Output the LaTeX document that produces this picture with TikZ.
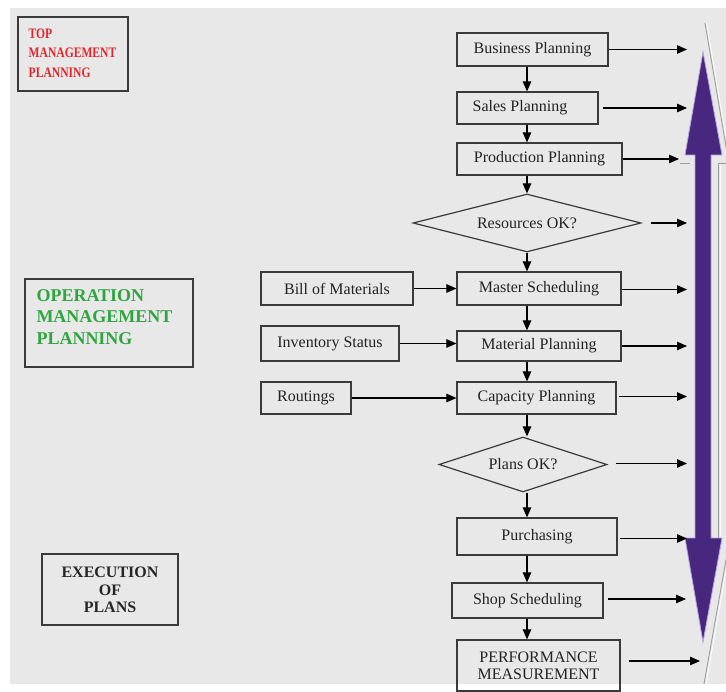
\documentclass[tikz,border=0pt]{standalone}
\usepackage{fontspec}
\setmainfont{Liberation Serif}
\newfontfamily\narrowserif[FakeStretch=0.8]{Liberation Serif}
\usetikzlibrary{arrows.meta,shapes.geometric}

\definecolor{pagebg}{HTML}{E8E8E8}
\definecolor{boxline}{HTML}{3A3A3A}
\definecolor{ink}{HTML}{222222}
\definecolor{topred}{HTML}{E3262E}
\definecolor{opgreen}{HTML}{2FA53F}
\definecolor{flowpurple}{HTML}{48287F}
\definecolor{flowedge}{HTML}{B7A4DD}
\definecolor{shadowline}{HTML}{9C9C9C}

\begin{document}
\begin{tikzpicture}[x=1pt,y=-1pt,
  stepbox/.style={draw=boxline, line width=1.2pt, inner sep=0pt, text=ink,
    font=\fontsize{16}{18}\selectfont, align=center},
  decision/.style={diamond, draw=boxline, line width=1.2pt, inner sep=0pt,
    aspect=3.5, text=ink, font=\fontsize{16}{18}\selectfont},
  levelbox/.style={draw=boxline, line width=1.3pt, inner sep=0pt},
  flow/.style={draw=black, line width=1.1pt, -{Triangle[length=10pt,width=8.5pt]}},
  rim/.style={shadowline, line width=0.9pt},
  rimlight/.style={white, line width=0.8pt},
]
\useasboundingbox (0,0) rectangle (726,692);
\fill[white] (0,0) rectangle (726,692);
\fill[pagebg] (10,8) rectangle (726,684);

% --- raised rim on the right-hand side of the two-way arrow
\draw[rimlight] (706.5,23) -- (730,161);
\draw[rimlight] (720,165) -- (720,538);
\draw[rimlight] (730,548) -- (706,684);
\draw[rim] (705,23) -- (728.5,161);
\draw[rim] (680,163) -- (690,163);
\draw[rim] (718,163) -- (726,163);
\draw[rim] (718,163) -- (718,538);
\draw[rim] (728.5,546) -- (704,684);
% --- purple two-way arrow (planning up, execution down)
\fill[flowpurple, draw=flowedge, line width=0.8pt]
  (703,52) -- (722,155) -- (711,155) -- (711,538) -- (722,538) -- (703,642)
  -- (685,538) -- (695,538) -- (695,155) -- (685,155) -- cycle;

% --- level boxes on the left
\node[levelbox, minimum width=110pt, minimum height=74pt] (topbox) at (73,54) {};
\node[align=left, text=topred, font=\narrowserif\bfseries\fontsize{14.5}{19.5}\selectfont]
  (toptext) at (72.5,53) {TOP\\MANAGEMENT\\PLANNING};

\node[levelbox, minimum width=168pt, minimum height=88pt] (opbox) at (109,323) {};
\node[align=left, text=opgreen, font=\bfseries\fontsize{18}{21.5}\selectfont]
  (optext) at (104.5,317) {OPERATION\\MANAGEMENT\\PLANNING};

\node[levelbox, minimum width=136pt, minimum height=71pt] (exbox) at (110,589.5) {};
\node[align=center, text=black!85, font=\bfseries\fontsize{16}{17.5}\selectfont]
  (extext) at (110,590) {EXECUTION\\OF\\PLANS};

% --- main chain
\node[stepbox, minimum width=151pt, minimum height=33pt] (bp) at (532.5,49.5) {Business Planning};
\node[stepbox, minimum width=141pt, minimum height=32pt]
  (sp) at (527.5,108) {Sales Planning\hspace*{15pt}};
\node[stepbox, minimum width=165pt, minimum height=32pt] (pp) at (539.5,159) {Production Planning};
\node[decision, minimum width=228pt, minimum height=58pt] (rok) at (527,223) {Resources OK?};
\node[stepbox, minimum width=164pt, minimum height=33pt] (ms) at (539,288.5) {Master Scheduling};
\node[stepbox, minimum width=164pt, minimum height=30pt] (mp) at (539,346) {Material Planning};
\node[stepbox, minimum width=159pt, minimum height=32pt] (cp) at (536.5,398) {Capacity Planning};
\node[decision, minimum width=168pt, minimum height=55pt] (pok) at (523,464.5) {Plans OK?};
\node[stepbox, minimum width=160pt, minimum height=37pt] (pu) at (537,536.5) {Purchasing};
\node[stepbox, minimum width=151pt, minimum height=35pt] (ss) at (527.5,600.5) {Shop Scheduling};
\node[stepbox, minimum width=163pt, minimum height=51pt] (pm) at (538.5,665.5)
  {PERFORMANCE\\[-1pt]MEASUREMENT};

% --- inputs
\node[stepbox, minimum width=152pt, minimum height=33pt] (bom) at (337,288.5) {Bill of Materials};
\node[stepbox, minimum width=138pt, minimum height=35pt] (inv) at (330,343.5) {Inventory Status};
\node[stepbox, minimum width=90pt, minimum height=32pt] (rt) at (306,398) {Routings};

% --- vertical line of the chain
\coordinate (spine) at (527,0);
\draw[flow] (bp.south -| spine) -- (sp.north -| spine);
\draw[flow] (sp.south -| spine) -- (pp.north -| spine);
\draw[flow] (pp.south -| spine) -- (rok.north);
\draw[flow] (rok.south) -- (ms.north -| spine);
\draw[flow] (ms.south -| spine) -- (mp.north -| spine);
\draw[flow] (mp.south -| spine) -- (cp.north -| spine);
\draw[flow] (cp.south -| spine) -- (pok.north -| spine);
\draw[flow] (pok.south -| spine) -- (pu.north -| spine);
\draw[flow] (pu.south -| spine) -- (ss.north -| spine);
\draw[flow] (ss.south -| spine) -- (pm.north -| spine);

% --- inputs into the chain
\draw[flow] (bom.east) -- (bom.east -| ms.west);
\draw[flow] (inv.east) -- (inv.east -| mp.west);
\draw[flow] (rt.east) -- (rt.east -| cp.west);

% --- outputs towards the two-way arrow
\coordinate (bpT) at (687,49.5);
\coordinate (spT) at (687,108);
\coordinate (ppT) at (679,159);
\coordinate (rokT) at (687,223);
\coordinate (msT) at (687,289.5);
\coordinate (mpT) at (687,346);
\coordinate (cpT) at (687,396.5);
\coordinate (pokT) at (687,463.5);
\coordinate (puT) at (687,538.5);
\coordinate (ssT) at (686,599);
\coordinate (pmT) at (700,661);
\draw[flow] (bp.east) -- (bpT);
\draw[flow, shorten <=4pt] (sp.east) -- (spT);
\draw[flow] (pp.east) -- (ppT);
\draw[flow, shorten <=9pt] (rok.east) -- (rokT);
\draw[flow] (ms.east |- msT) -- (msT);
\draw[flow] (mp.east) -- (mpT);
\draw[flow, shorten <=2pt] (cp.east |- cpT) -- (cpT);
\draw[flow, shorten <=8pt] (pok.east |- pokT) -- (pokT);
\draw[flow, shorten <=2pt] (pu.east |- puT) -- (puT);
\draw[flow, shorten <=4pt] (ss.east |- ssT) -- (ssT);
\draw[flow, shorten <=8pt] (pm.east |- pmT) -- (pmT);
\end{tikzpicture}
\end{document}
